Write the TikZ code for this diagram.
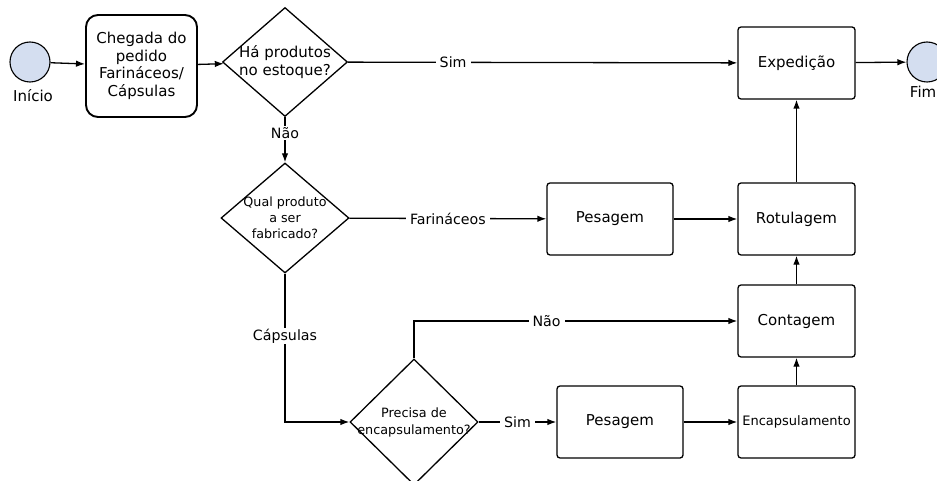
\documentclass[tikz,border=0pt]{standalone}
\usepackage{fontspec}
\setmainfont{DejaVu Sans}
\usetikzlibrary{shapes.geometric,arrows.meta}
\definecolor{circfill}{RGB}{212,222,240}
\begin{document}
\begin{tikzpicture}[x=1pt,y=-1pt,
  every node/.style={font=\fontsize{15}{17.7}\selectfont, align=center, inner sep=0pt},
  proc/.style={draw, line width=1.3pt, rounded corners=3pt, minimum width=117pt, minimum height=72pt},
  startbox/.style={draw, line width=1.9pt, rounded corners=12pt, minimum width=111pt, minimum height=102pt},
  dia/.style={draw, diamond, line width=1.3pt, inner sep=0pt},
  ev/.style={draw, circle, fill=circfill, line width=1.1pt, minimum size=40pt},
  arr/.style={line width=1.3pt, -{Latex[length=9pt,width=6.5pt]}},
  lbl/.style={fill=white, inner xsep=4pt, inner ysep=1pt, font=\fontsize{14.2}{17}\selectfont},
  small/.style={font=\fontsize{12.7}{16}\selectfont}
]
\useasboundingbox (0,0) rectangle (937,481);
\fill[white] (0,0) rectangle (937,481);

% events
\node[ev] (ini) at (30,62) {};
\node (initxt) at (33,96) {Início};
\node[ev] (fim) at (927,62) {};
\node[anchor=east] (fimtxt) at (936.5,92) {Fim};

% start task
\node[startbox] (cheg) at (141.5,66) {Chegada do\\pedido\\Farináceos/\\Cápsulas};

% diamonds
\node[dia, minimum width=125pt, minimum height=109pt] (d1) at (285,62) {};
\node (d1t) at (d1) {Há produtos\\no estoque?};
\node[dia, minimum width=128pt, minimum height=110pt] (d2) at (285,218) {};
\node[small] (d2t) at (d2) {Qual produto\\a ser\\fabricado?};
\node[dia, minimum width=128pt, minimum height=126pt] (d3) at (414,422) {};
\node[font=\fontsize{12.8}{17}\selectfont] (d3t) at (d3) {Precisa de\\encapsulamento?};

% tasks
\node[proc] (exp) at (796.5,63) {Expedição};
\node[proc] (rot) at (796.5,219) {Rotulagem};
\node[proc] (cont) at (796.5,321) {Contagem};
\node[proc, font=\fontsize{13}{16}\selectfont] (enc) at (796.5,422) {Encapsulamento};
\node[proc, minimum width=126pt] (pes1) at (610,219) {Pesagem};
\node[proc, minimum width=126pt] (pes2) at (620,422) {Pesagem};

% connectors
\draw[arr] (ini) -- (cheg);
\draw[arr] (cheg) -- (d1);
\draw[arr] (d1) -- node[lbl, pos=0.27] {Sim} (exp);
\draw[arr] (exp) -- (fim);
\draw[arr] (d1) -- node[lbl, pos=0.35] {Não} (d2);
\draw[arr] (d2) -- node[lbl] {Farináceos} (pes1);
\draw[arr] (pes1) -- (rot);
\draw[arr] (rot) -- (exp);
\draw[arr] (cont) -- (rot);
\draw[arr] (enc) -- (cont);
\draw[arr] (d2.south) -- node[lbl, pos=0.42] {Cápsulas} (d2.south |- d3.west) -- (d3.west);
\draw[arr] (d3.north) -- (d3.north |- cont.west) -- node[lbl, pos=0.41] {Não} (cont.west);
\draw[arr] (d3) -- node[lbl] {Sim} (pes2);
\draw[arr] (pes2) -- (enc);
\end{tikzpicture}
\end{document}
